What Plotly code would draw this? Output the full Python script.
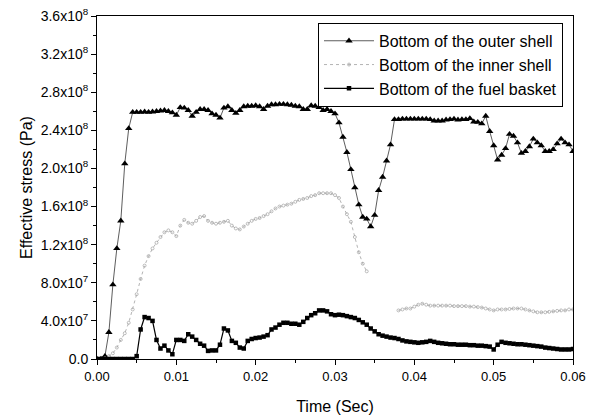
import numpy as np
import plotly.graph_objects as go

# Sampling times (s), every 0.5 ms from 0 to 60 ms
time_s = np.round(np.arange(121) * 0.0005, 4)

# Effective stress, in units of 1e8 Pa
outer_shell = [
    0.00, 0.00, 0.03, 0.28, 0.78, 1.16, 1.45, 2.05, 2.42, 2.59,
    2.59, 2.59, 2.595, 2.59, 2.595, 2.60, 2.605, 2.61, 2.60, 2.585,
    2.56, 2.64, 2.635, 2.61, 2.55, 2.59, 2.62, 2.62, 2.61, 2.575,
    2.56, 2.53, 2.635, 2.65, 2.61, 2.58, 2.61, 2.65, 2.655, 2.655,
    2.66, 2.65, 2.62, 2.655, 2.67, 2.67, 2.675, 2.675, 2.67, 2.665,
    2.655, 2.65, 2.62, 2.62, 2.66, 2.655, 2.64, 2.61, 2.62, 2.60,
    2.575, 2.48, 2.33, 2.17, 1.99, 1.80, 1.62, 1.49, 1.47, 1.39,
    1.51, 1.77, 1.91, 2.08, 2.25, 2.515, 2.515, 2.52, 2.52, 2.52,
    2.52, 2.52, 2.52, 2.52, 2.515, 2.50, 2.50, 2.50, 2.51, 2.515,
    2.52, 2.51, 2.515, 2.515, 2.525, 2.49, 2.485, 2.47, 2.55, 2.39,
    2.24, 2.09, 2.14, 2.21, 2.36, 2.34, 2.27, 2.16, 2.18, 2.23,
    2.31, 2.27, 2.24, 2.18, 2.18, 2.20, 2.26, 2.31, 2.27, 2.25,
    2.18,
]

inner_shell = [
    0.00, 0.00, 0.01, 0.03, 0.06, 0.12, 0.20, 0.27, 0.38, 0.52,
    0.68, 0.84, 0.98, 1.08, 1.16, 1.22, 1.28, 1.33, 1.35, 1.33,
    1.29, 1.40, 1.46, 1.43, 1.42, 1.45, 1.49, 1.50, 1.45, 1.43,
    1.42, 1.43, 1.44, 1.45, 1.40, 1.37, 1.36, 1.39, 1.42, 1.45,
    1.47, 1.48, 1.50, 1.52, 1.55, 1.58, 1.60, 1.61, 1.62, 1.63,
    1.65, 1.67, 1.68, 1.69, 1.71, 1.72, 1.74, 1.74, 1.74, 1.74,
    1.72, 1.69, 1.60, 1.52, 1.44, 1.28, 1.12, 1.00, 0.92, None,
    None, None, None, None, None, None, 0.51, 0.52, 0.53, 0.53,
    0.55, 0.57, 0.58, 0.57, 0.56, 0.56, 0.56, 0.56, 0.56, 0.56,
    0.555, 0.555, 0.555, 0.555, 0.55, 0.55, 0.545, 0.54, 0.53, 0.52,
    0.51, 0.52, 0.52, 0.52, 0.525, 0.53, 0.53, 0.53, 0.52, 0.51,
    0.50, 0.49, 0.49, 0.49, 0.495, 0.50, 0.505, 0.51, 0.51, 0.52,
    0.52,
]

fuel_basket = [
    0.00, 0.00, 0.00, 0.00, 0.00, 0.00, 0.00, 0.00, 0.00, 0.00,
    0.03, 0.31, 0.44, 0.43, 0.40, 0.20, 0.11, 0.14, 0.09, 0.05,
    0.20, 0.20, 0.19, 0.26, 0.235, 0.20, 0.16, 0.14, 0.085, 0.09,
    0.09, 0.15, 0.32, 0.30, 0.19, 0.17, 0.12, 0.11, 0.19, 0.21,
    0.22, 0.225, 0.235, 0.25, 0.31, 0.33, 0.36, 0.38, 0.38, 0.37,
    0.37, 0.36, 0.39, 0.43, 0.46, 0.48, 0.51, 0.51, 0.50, 0.47,
    0.46, 0.465, 0.46, 0.45, 0.44, 0.43, 0.41, 0.385, 0.36, 0.32,
    0.29, 0.26, 0.245, 0.235, 0.225, 0.22, 0.21, 0.195, 0.185, 0.18,
    0.175, 0.17, 0.175, 0.18, 0.19, 0.18, 0.17, 0.165, 0.16, 0.155,
    0.155, 0.15, 0.15, 0.15, 0.145, 0.145, 0.14, 0.14, 0.135, 0.13,
    0.10, 0.15, 0.18, 0.17, 0.165, 0.16, 0.155, 0.155, 0.15, 0.145,
    0.14, 0.135, 0.13, 0.12, 0.115, 0.11, 0.105, 0.10, 0.10, 0.10,
    0.105,
]

series_names = [
    "Bottom of the outer shell",
    "Bottom of the inner shell",
    "Bottom of the fuel basket",
]

x_tick_vals = [0.00, 0.01, 0.02, 0.03, 0.04, 0.05, 0.06]
x_tick_text = ["0.00", "0.01", "0.02", "0.03", "0.04", "0.05", "0.06"]
y_tick_vals = [0, 4e7, 8e7, 1.2e8, 1.6e8, 2.0e8, 2.4e8, 2.8e8, 3.2e8, 3.6e8]
y_tick_text = [
    "0.0", "4.0x10<sup>7</sup>", "8.0x10<sup>7</sup>", "1.2x10<sup>8</sup>",
    "1.6x10<sup>8</sup>", "2.0x10<sup>8</sup>", "2.4x10<sup>8</sup>",
    "2.8x10<sup>8</sup>", "3.2x10<sup>8</sup>", "3.6x10<sup>8</sup>",
]


def to_pa(values):
    return [None if v is None else v * 1e8 for v in values]


fig = go.Figure()

fig.add_trace(go.Scatter(
    x=time_s, y=to_pa(outer_shell), name=series_names[0],
    mode="lines+markers",
    line=dict(color="#333333", width=0.8),
    marker=dict(symbol="triangle-up", size=6.5, color="black"),
))

fig.add_trace(go.Scatter(
    x=time_s, y=to_pa(inner_shell), name=series_names[1],
    mode="lines+markers", connectgaps=False,
    line=dict(color="#a0a0a0", width=0.8, dash="dot"),
    marker=dict(symbol="circle-open", size=3, color="#a0a0a0",
                line=dict(width=0.7, color="#a0a0a0")),
))

fig.add_trace(go.Scatter(
    x=time_s, y=to_pa(fuel_basket), name=series_names[2],
    mode="lines+markers",
    line=dict(color="black", width=1.2),
    marker=dict(symbol="square", size=4.5, color="black"),
))

font_family = "Liberation Sans, Arial, sans-serif"

fig.update_layout(
    width=598, height=417,
    margin=dict(l=97, r=25, t=16, b=58),
    paper_bgcolor="white", plot_bgcolor="white",
    font=dict(family=font_family, color="black", size=13),
    showlegend=True,
    legend=dict(
        x=0.979, xanchor="right", y=0.98, yanchor="top",
        bordercolor="black", borderwidth=1, bgcolor="white",
        font=dict(size=16, family=font_family),
        tracegroupgap=0, itemwidth=50,
    ),
)

fig.update_xaxes(
    range=[0, 0.06], tickvals=x_tick_vals, ticktext=x_tick_text,
    automargin=False,
    showgrid=False, zeroline=False,
    showline=True, linecolor="black", linewidth=1, mirror=True,
    ticks="outside", ticklen=5, tickcolor="black",
    minor=dict(ticks="outside", ticklen=3, dtick=0.005, tickcolor="black", showgrid=False),
    tickfont=dict(size=13),
    title=dict(text="Time (Sec)", font=dict(size=16), standoff=18),
)

fig.update_yaxes(
    range=[0, 3.6e8], tickvals=y_tick_vals, ticktext=y_tick_text,
    automargin=False,
    showgrid=False, zeroline=False,
    showline=True, linecolor="black", linewidth=1, mirror=True,
    ticks="outside", ticklen=5, tickcolor="black",
    minor=dict(ticks="outside", ticklen=3, dtick=2e7, tickcolor="black", showgrid=False),
    tickfont=dict(size=14),
    title=dict(text="Effective stress (Pa)", font=dict(size=16), standoff=4),
)

fig.write_html("out.html")
